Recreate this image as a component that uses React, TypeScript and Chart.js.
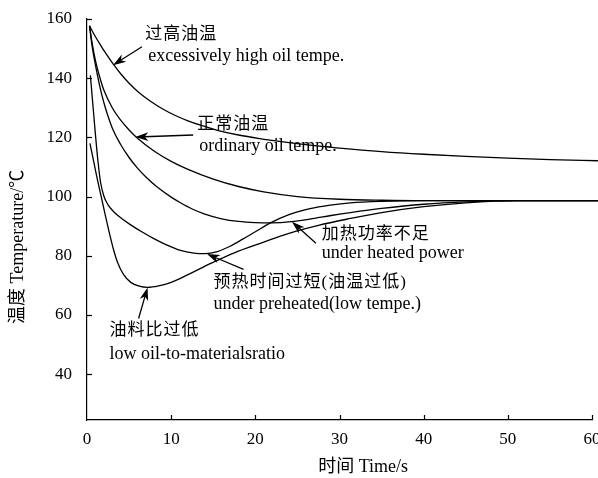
import { useEffect, useRef } from "react";
import { Chart, registerables } from "chart.js";

Chart.register(...registerables);

// ---------- data ----------
const xTickValues = [0, 10, 20, 30, 40, 50, 60];
const yTickValues = [40, 60, 80, 100, 120, 140, 160];

const highOilTime = [0.3, 0.8, 1.6, 2.3, 3.1, 4, 5, 6.2, 7.5, 9, 10.5, 12, 13.5, 15.5, 18, 20.5, 23.3, 26.5, 30, 35, 40, 45, 50, 55, 60.7];
const highOilTemp = [157.7, 155, 151.2, 148.1, 144.8, 141.5, 138.3, 135.1, 132.3, 129.6, 127.4, 125.6, 124.1, 122.4, 120.8, 119.6, 118.5, 117.4, 116.4, 115.2, 114.3, 113.6, 113.0, 112.5, 112.1];

const ordinaryTime = [0.3, 0.6, 1.0, 1.5, 2, 3, 4, 5, 6, 8, 10, 12, 15, 18, 21, 25, 30, 35, 40, 60.7];
const ordinaryTemp = [157.7, 152, 146, 140.5, 136, 130, 125.8, 122.5, 119.7, 115.3, 111.9, 109.2, 105.9, 103.4, 101.6, 100.0, 99.1, 98.75, 98.6, 98.6];

const heatedTime = [0.3, 0.6, 1.0, 1.5, 2, 3, 4, 5, 6, 7, 8.3, 10, 11.1, 12.5, 14, 16, 18, 20, 22, 24.3, 26.5, 29, 31.3, 35, 40, 45, 51, 60.7];
const heatedTemp = [157.7, 151, 144.5, 137.5, 131.8, 123.2, 117.6, 113.2, 109.6, 106.6, 103.3, 99.8, 97.9, 95.8, 94.1, 92.5, 91.6, 91.2, 91.1, 91.5, 92.4, 93.6, 94.6, 96.0, 97.4, 98.2, 98.6, 98.6];

const preheatTime = [0.4, 0.7, 1.0, 1.3, 1.6, 2.0, 2.5, 3.2, 4.2, 5.1, 6.5, 8, 9.5, 11.1, 12.7, 14, 15.5, 17, 18.5, 20, 21.8, 24, 26.5, 28.9, 31.3, 35, 40, 45, 60.7];
const preheatTemp = [141, 131, 121, 112, 105, 100.2, 97.2, 94.8, 92.4, 90.6, 88.1, 85.7, 83.6, 81.8, 80.9, 80.7, 81.4, 83.2, 85.6, 88.1, 91.1, 93.9, 95.9, 97.1, 97.9, 98.4, 98.6, 98.6, 98.6];

const lowOilTime = [0.35, 0.8, 1.2, 1.7, 2.2, 2.77, 3.2, 3.6, 4.35, 5.2, 6.2, 7.2, 8.5, 10, 12, 14.7, 17.5, 20.6, 24, 27.5, 31.3, 35, 40, 45, 51, 60.7];
const lowOilTemp = [118, 111.8, 106.2, 99.8, 93.4, 86.4, 81.6, 78.0, 73.6, 71.0, 69.7, 69.3, 69.8, 71, 73.6, 77.4, 81, 84.2, 87.6, 90.3, 92.6, 94.6, 96.6, 97.9, 98.6, 98.6];

const seriesList = [
  { name: "过高油温", time: highOilTime, temp: highOilTemp },
  { name: "正常油温", time: ordinaryTime, temp: ordinaryTemp },
  { name: "加热功率不足", time: heatedTime, temp: heatedTemp },
  { name: "预热时间过短", time: preheatTime, temp: preheatTemp },
  { name: "油料比过低", time: lowOilTime, temp: lowOilTemp },
];

// annotation texts (anchored in data coordinates)
const noteCN = ["过高油温", "正常油温", "加热功率不足", "预热时间过短(油温过低)", "油料比过低"];
const noteEN = [
  "excessively high oil tempe.",
  "ordinary oil tempe.",
  "under heated power",
  "under preheated(low tempe.)",
  "low oil-to-materialsratio",
];
const noteAnchor = [
  { cx: 6.92, cy: 154.9, ex: 7.28, ey: 147.5, fx: 6.53, fy: 150.6, tx: 3.09, ty: 144.4 },
  { cx: 13.1, cy: 124.5, ex: 13.34, ey: 117.1, fx: 12.62, fy: 120.8, tx: 5.74, ty: 120.1 },
  { cx: 27.9, cy: 87.3, ex: 27.9, ey: 80.9, fx: 27.2, fy: 84.2, tx: 24.35, ty: 91.5 },
  { cx: 15.04, cy: 71.1, ex: 15.04, ey: 63.6, fx: 18.6, fy: 75.4, tx: 14.25, ty: 80.6 },
  { cx: 2.68, cy: 54.9, ex: 2.68, ey: 46.7, fx: 6.13, fy: 58.8, tx: 7.2, ty: 69.3 },
];

const xTitle = "时间 Time/s";
const yTitle = "温度 Temperature/℃";

const SERIF = "'Liberation Serif', 'Noto Sans CJK SC', serif";
const CJK = "'Liberation Serif', 'Noto Sans CJK SC', sans-serif";

function drawArrow(ctx: CanvasRenderingContext2D, x1: number, y1: number, x2: number, y2: number) {
  const ang = Math.atan2(y2 - y1, x2 - x1);
  const len = 13;
  const hw = 4.3;
  ctx.beginPath();
  ctx.moveTo(x1, y1);
  ctx.lineTo(x2 - Math.cos(ang) * len * 0.7, y2 - Math.sin(ang) * len * 0.7);
  ctx.stroke();
  const bx = x2 - Math.cos(ang) * len;
  const by = y2 - Math.sin(ang) * len;
  const nx = -Math.sin(ang);
  const ny = Math.cos(ang);
  const mx = x2 - Math.cos(ang) * len * 0.72;
  const my = y2 - Math.sin(ang) * len * 0.72;
  ctx.beginPath();
  ctx.moveTo(x2, y2);
  ctx.lineTo(bx + nx * hw, by + ny * hw);
  ctx.lineTo(mx, my);
  ctx.lineTo(bx - nx * hw, by - ny * hw);
  ctx.closePath();
  ctx.fill();
}

const overlayPlugin = {
  id: "overlay",
  afterDraw(chart: any) {
    const { ctx } = chart;
    const xs = chart.scales.x;
    const ys = chart.scales.y;
    ctx.save();
    ctx.strokeStyle = "#000";
    ctx.fillStyle = "#000";
    ctx.lineWidth = 1.2;
    // inward tick marks
    for (const v of xTickValues) {
      if (v === 0) continue;
      const px = Math.round(xs.getPixelForValue(v)) + 0.5;
      ctx.beginPath();
      ctx.moveTo(px, ys.bottom);
      ctx.lineTo(px, ys.bottom - 5);
      ctx.stroke();
    }
    for (const v of yTickValues) {
      const py = Math.round(ys.getPixelForValue(v)) + 0.5;
      ctx.beginPath();
      ctx.moveTo(xs.left, py);
      ctx.lineTo(xs.left + 5, py);
      ctx.stroke();
    }
    // annotations
    ctx.textAlign = "left";
    ctx.textBaseline = "middle";
    noteAnchor.forEach((a, i) => {
      ctx.font = `17px ${CJK}`;
      (ctx as any).letterSpacing = "1px";
      ctx.fillText(noteCN[i], xs.getPixelForValue(a.cx), ys.getPixelForValue(a.cy));
      ctx.font = `18px ${SERIF}`;
      (ctx as any).letterSpacing = "0px";
      ctx.fillText(noteEN[i], xs.getPixelForValue(a.ex), ys.getPixelForValue(a.ey));
      ctx.lineWidth = 1.3;
      drawArrow(
        ctx,
        xs.getPixelForValue(a.fx),
        ys.getPixelForValue(a.fy),
        xs.getPixelForValue(a.tx),
        ys.getPixelForValue(a.ty)
      );
    });
    // axis titles
    ctx.font = `18px ${SERIF}`;
    ctx.textAlign = "center";
    ctx.fillText(xTitle, xs.getPixelForValue(32.8), 467);
    ctx.save();
    ctx.translate(18, ys.getPixelForValue(83));
    ctx.rotate(-Math.PI / 2);
    ctx.fillText(yTitle, 0, 0);
    ctx.restore();
    ctx.restore();
  },
};

export default function App() {
  const canvasRef = useRef<HTMLCanvasElement | null>(null);

  useEffect(() => {
    const canvas = canvasRef.current;
    if (!canvas) return;
    const chart = new Chart(canvas, {
      type: "line",
      data: {
        datasets: seriesList.map((s) => ({
          label: s.name,
          data: s.time.map((t, i) => ({ x: t, y: s.temp[i] })),
          borderColor: "#000",
          borderWidth: 1.3,
          pointRadius: 0,
          fill: false,
          cubicInterpolationMode: "monotone" as const,
          clip: false as any,
        })),
      },
      options: {
        animation: false,
        responsive: false,
        devicePixelRatio: 1,
        layout: { padding: { top: 19, right: 6, left: 0, bottom: 0 } },
        plugins: {
          legend: { display: false },
          tooltip: { enabled: false },
          title: { display: false },
        },
        scales: {
          x: {
            type: "linear",
            min: 0,
            max: 60,
            position: "bottom",
            grid: { display: false, drawTicks: false },
            border: { display: true, color: "#000", width: 1.2 },
            afterBuildTicks: (s: any) => {
              s.ticks = xTickValues.map((v) => ({ value: v }));
            },
            ticks: {
              color: "#000",
              font: { family: SERIF, size: 17 },
              padding: 9,
              maxRotation: 0,
              autoSkip: false,
            },
            afterFit: (s: any) => {
              s.height = 58;
              s.paddingLeft = 0;
              s.paddingRight = 0;
            },
          },
          y: {
            type: "linear",
            min: 24.5,
            max: 160,
            grid: { display: false, drawTicks: false },
            border: { display: true, color: "#000", width: 1.2 },
            afterBuildTicks: (s: any) => {
              s.ticks = yTickValues.map((v) => ({ value: v }));
            },
            ticks: {
              color: "#000",
              font: { family: SERIF, size: 17 },
              padding: 15,
              autoSkip: false,
            },
            afterFit: (s: any) => {
              s.width = 87;
              s.paddingTop = 0;
              s.paddingBottom = 0;
            },
          },
        },
      },
      plugins: [overlayPlugin],
    });
    return () => chart.destroy();
  }, []);

  return (
    <div style={{ position: "fixed", left: 0, top: 0, width: 598, height: 478, background: "#fff" }}>
      <canvas ref={canvasRef} width={598} height={478} style={{ width: 598, height: 478, display: "block" }} />
    </div>
  );
}
